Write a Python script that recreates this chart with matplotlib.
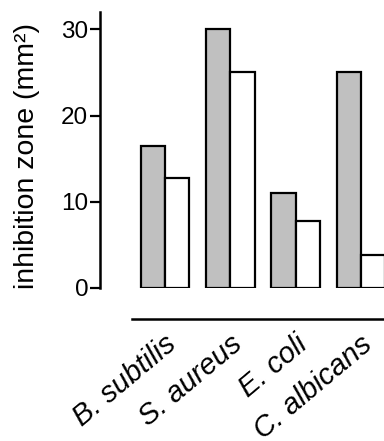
import numpy as np
import matplotlib
matplotlib.use("Agg")
import matplotlib.pyplot as plt

plt.rcParams['font.family'] = ['Liberation Sans', 'DejaVu Sans']

# data
organisms = ["B. subtilis", "S. aureus", "E. coli", "C. albicans"]
gray_vals = [16.5, 30.0, 11.0, 25.0]
white_vals = [12.8, 25.0, 7.8, 3.8]
yticks = [0, 10, 20, 30]

W, H = 384, 441
fig = plt.figure(figsize=(W / 100, H / 100), dpi=100)
# axes runs past the right edge on purpose (reference is cropped there)
ax = fig.add_axes([100 / W, 153 / H, 326 / W, 276 / H])

x = np.arange(len(organisms))
bw = 0.37
ax.bar(x - bw / 2, gray_vals, width=bw, color='#c0c0c0', edgecolor='black', linewidth=1.6)
ax.bar(x + bw / 2, white_vals, width=bw, color='white', edgecolor='black', linewidth=1.6)

ax.set_xlim(-1, 4)
ax.set_ylim(0, 32)
ax.set_yticks(yticks)
ax.tick_params(axis='y', labelsize=17.5, width=1.6, length=7, pad=1.5)
ax.set_ylabel("inhibition zone (mm²)", fontsize=20.5)
ax.yaxis.set_label_coords(-60 / 326, 0.48)

for s in ['top', 'right']:
    ax.spines[s].set_visible(False)
ax.spines['left'].set_linewidth(1.8)
ax.spines['bottom'].set_linewidth(1.8)
ax.spines['bottom'].set_position(('outward', 22.5))
ax.spines['bottom'].set_bounds(-0.51, 4)
ax.set_xticks([])

# rotated species names, anchored at the end of the baseline
for xi, name in zip(x, organisms):
    ax.text(xi + 0.2, -0.214, name, transform=ax.get_xaxis_transform(),
            rotation=40, ha='right', va='baseline', rotation_mode='anchor',
            fontsize=21, style='italic')

fig.savefig("out.png", dpi=100)
